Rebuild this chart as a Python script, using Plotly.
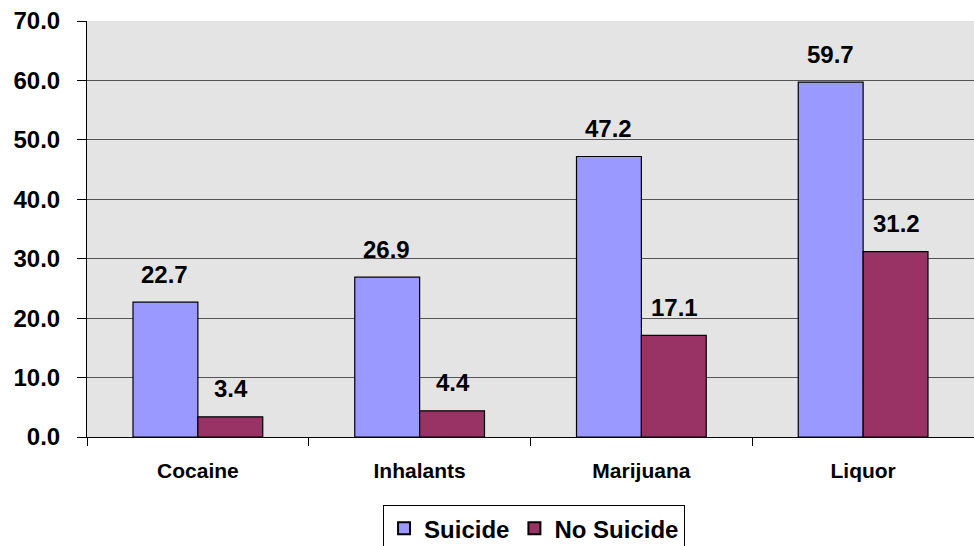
import plotly.graph_objects as go

categories = ["Cocaine", "Inhalants", "Marijuana", "Liquor"]
suicide = [22.7, 26.9, 47.2, 59.7]
no_suicide = [3.4, 4.4, 17.1, 31.2]
y_ticks = [0, 10, 20, 30, 40, 50, 60, 70]

FONT = "Liberation Sans, Arial, sans-serif"

fig = go.Figure()
fig.add_trace(go.Bar(name="Suicide", x=categories, y=suicide,
                     marker=dict(color="#9999FF", line=dict(color="#000000", width=1.2))))
fig.add_trace(go.Bar(name="No Suicide", x=categories, y=no_suicide,
                     marker=dict(color="#993366", line=dict(color="#000000", width=1.2))))

for i, series in enumerate([suicide, no_suicide]):
    for c, v in zip(categories, series):
        fig.add_annotation(x=c, y=v, text="<b>%.1f</b>" % v, showarrow=False,
                           xshift=-33 if i == 0 else 33, yshift=28,
                           font=dict(family=FONT, size=24, color="#000000"))

fig.update_layout(
    width=974, height=546,
    margin=dict(l=87, r=0, t=21, b=109, autoexpand=False),
    paper_bgcolor="#ffffff",
    plot_bgcolor="#e4e4e4",
    barmode="group",
    bargap=0.415,
    bargroupgap=0,
    font=dict(family=FONT, color="#000000"),
    showlegend=True,
    legend=dict(orientation="h", x=0.504, xanchor="center", y=-0.164, yanchor="top",
                bordercolor="#000000", borderwidth=1,
                font=dict(family=FONT, size=24, color="#000000", weight="bold"),
                itemsizing="constant"),
    xaxis=dict(showline=True, linecolor="#000000", linewidth=1,
               ticks="outside", tickson="boundaries", ticklen=8, tickcolor="#000000",
               tickfont=dict(family=FONT, size=21, color="#000000", weight="bold"),
               ticklabelstandoff=15, showgrid=False),
    yaxis=dict(range=[0, 70], tickvals=y_ticks,
               ticktext=["%.1f" % t for t in y_ticks],
               showline=True, linecolor="#000000", linewidth=1,
               ticks="outside", ticklen=9, tickcolor="#000000",
               tickfont=dict(family=FONT, size=24, color="#000000", weight="bold"),
               ticklabelstandoff=12,
               showgrid=True, gridcolor="#555555", gridwidth=1, zeroline=False),
)

fig.write_html("out.html")
